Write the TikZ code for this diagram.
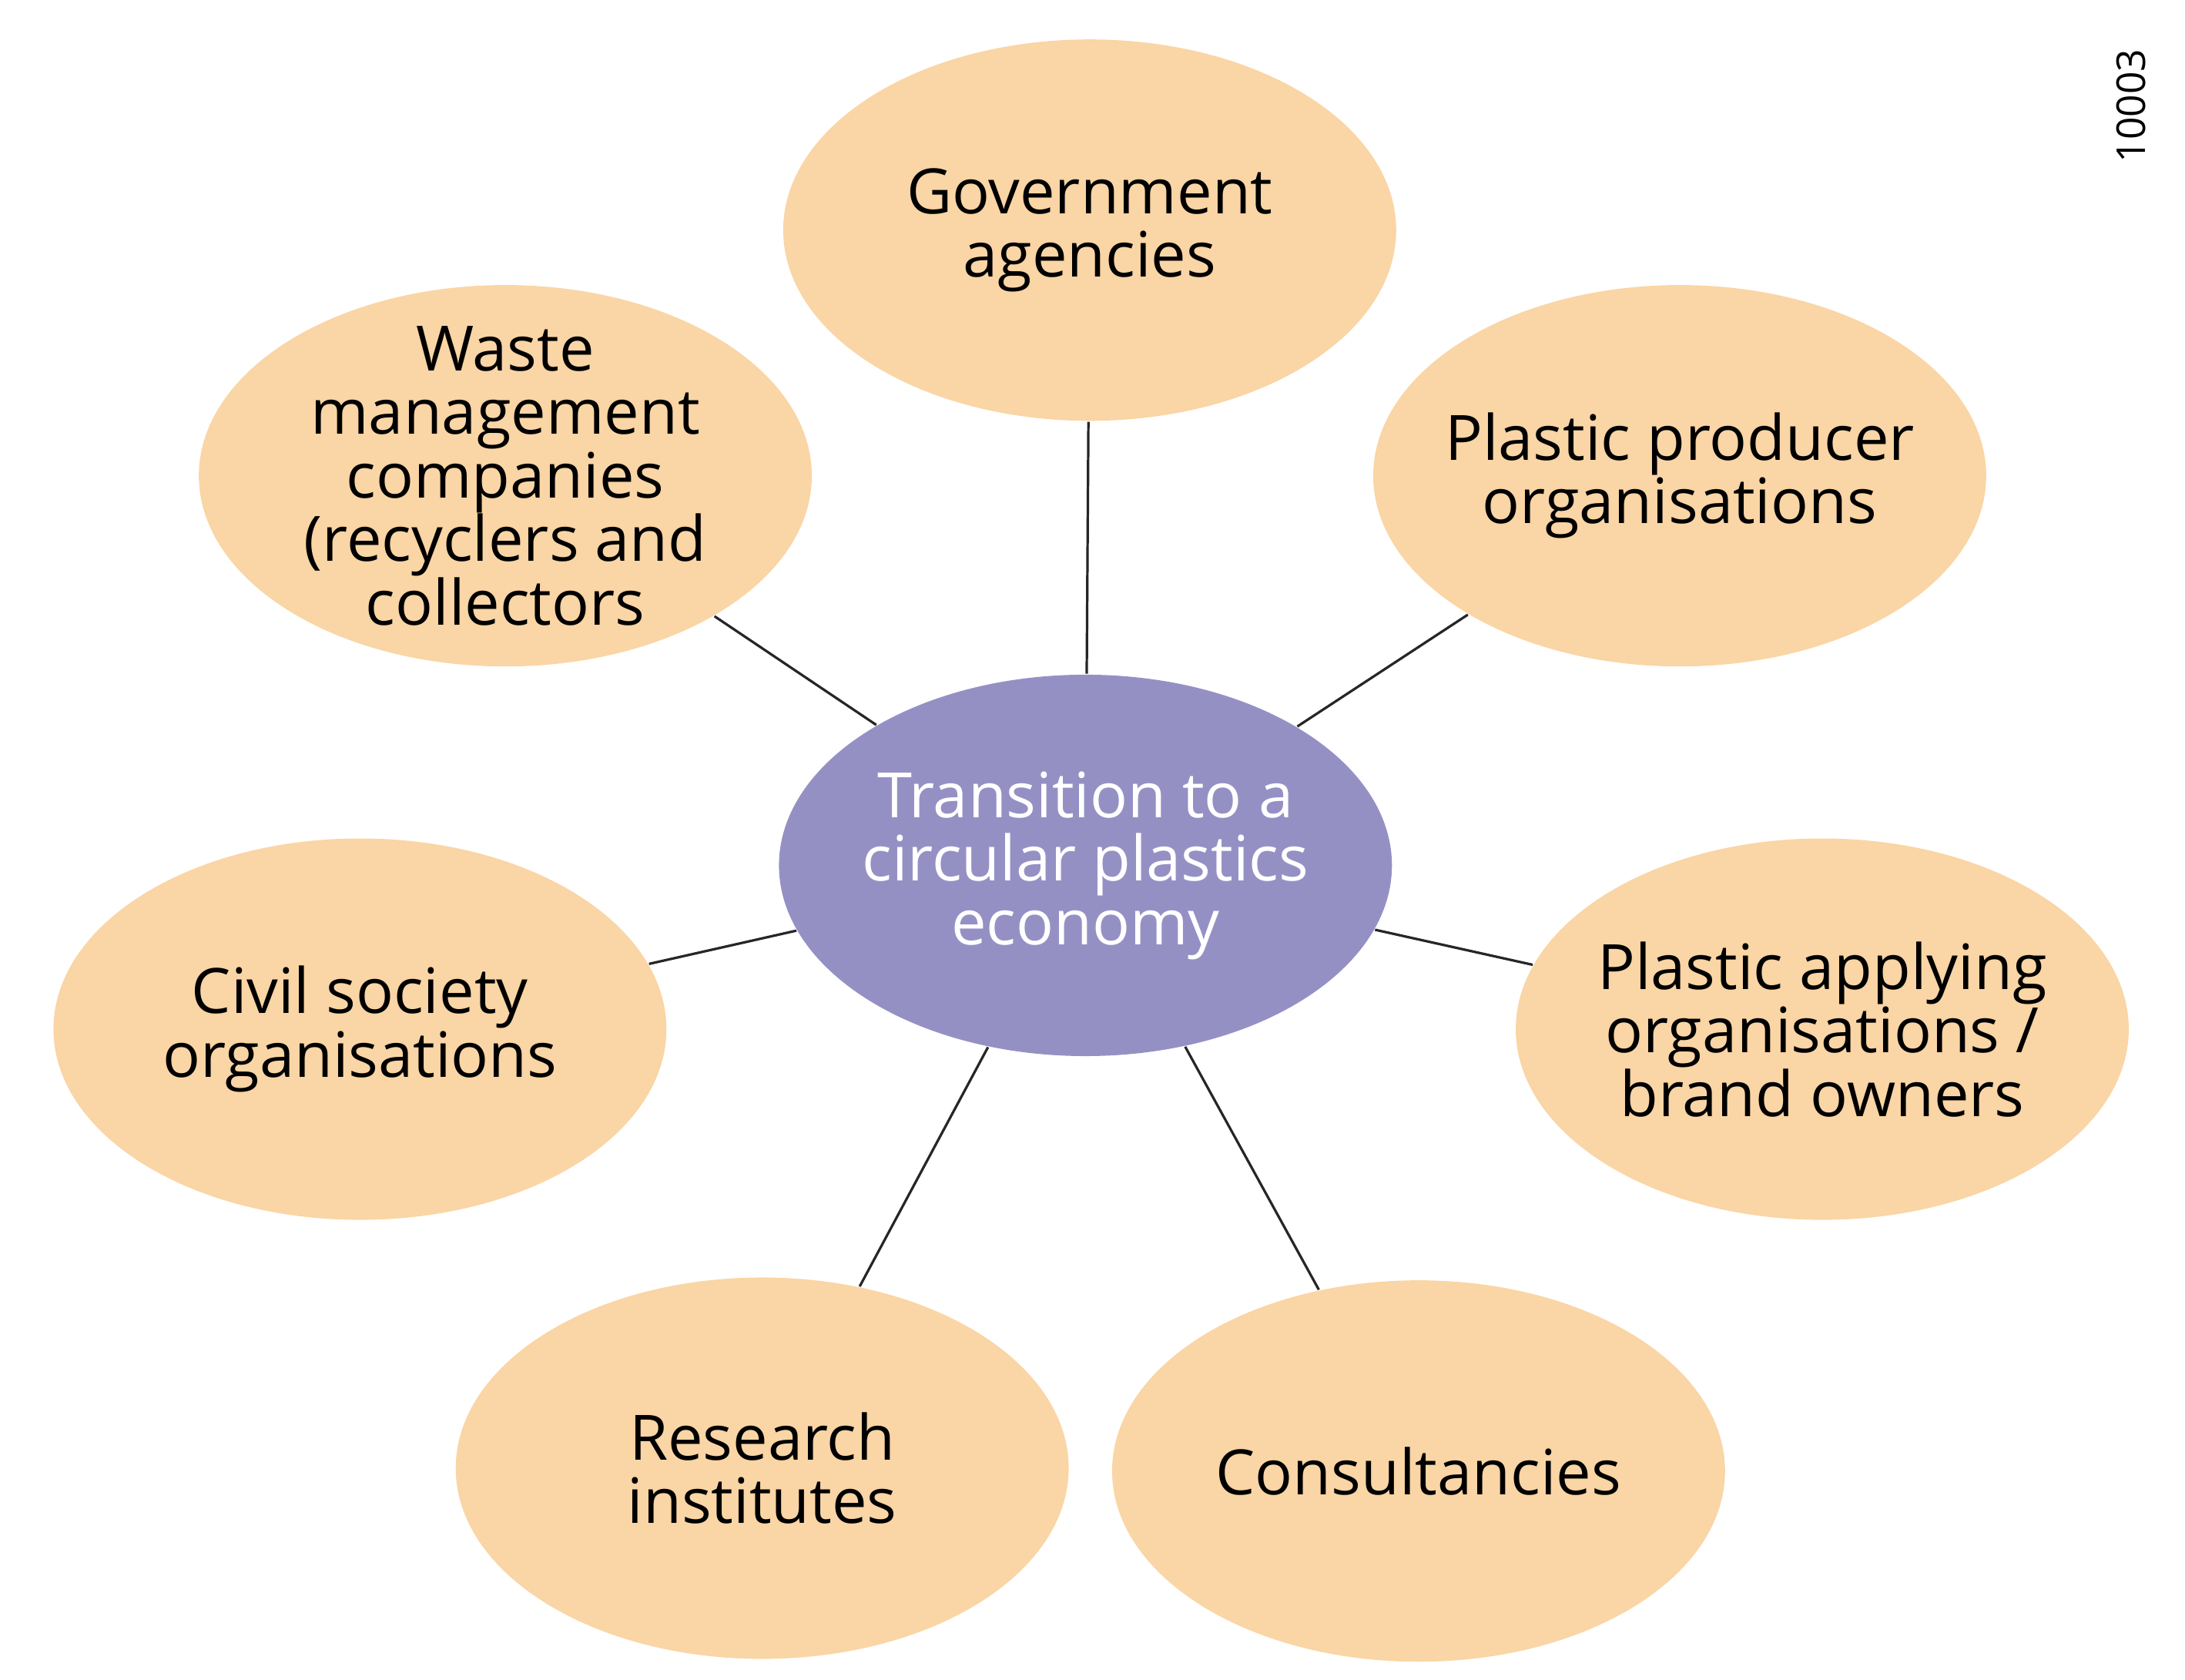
\documentclass[tikz,border=0pt]{standalone}
\usepackage{fontspec}
\setmainfont{Open Sans}
\usetikzlibrary{shapes.geometric}
\definecolor{peach}{HTML}{FAD5A5}
\definecolor{lav}{HTML}{9590C4}
\tikzset{
 x=0.01cm,y=-0.01cm,
 blob/.style={ellipse,fill=peach,minimum width=4.34cm,minimum height=2.7cm,inner sep=0pt},
 hub/.style={blob,fill=lav},
 txt/.style={align=center,inner sep=0pt,font=\fontsize{12.6}{12.8}\selectfont},
 link/.style={draw=black!85,line width=0.5pt}
}
\begin{document}
\begin{tikzpicture}
\useasboundingbox (0,0) rectangle (1548,1190);
\node[hub] (c) at (769,613) {};
\node[blob] (g) at (772,163) {};
\node[blob] (w) at (358,337) {};
\node[blob] (p) at (1190,337) {};
\node[blob] (s) at (255,729) {};
\node[blob] (a) at (1291,729) {};
\node[blob] (r) at (540,1040) {};
\node[blob] (k) at (1005,1042) {};
\node[txt,text=white] (ct) at (c) {Transition to a\\circular plastics\\economy};
\node[txt] (gt) at (g) {Government\\agencies};
\node[txt] (wt) at (w) {Waste\\management\\companies\\(recyclers and\\collectors};
\node[txt] (pt) at (p) {Plastic producer\\organisations};
\node[txt] (st) at (s) {Civil society\\organisations};
\node[txt] (at) at (a) {Plastic applying\\organisations /\\brand owners};
\node[txt] (rt) at (r) {Research\\institutes};
\node[txt] (kt) at (k) {Consultancies};
\node[rotate=90,font=\fontsize{8}{9}\selectfont] (id) at (1510,75) {10003};
\foreach \n in {g,w,p,s,a,r,k} \draw[link] (c) -- (\n);
\end{tikzpicture}
\end{document}
